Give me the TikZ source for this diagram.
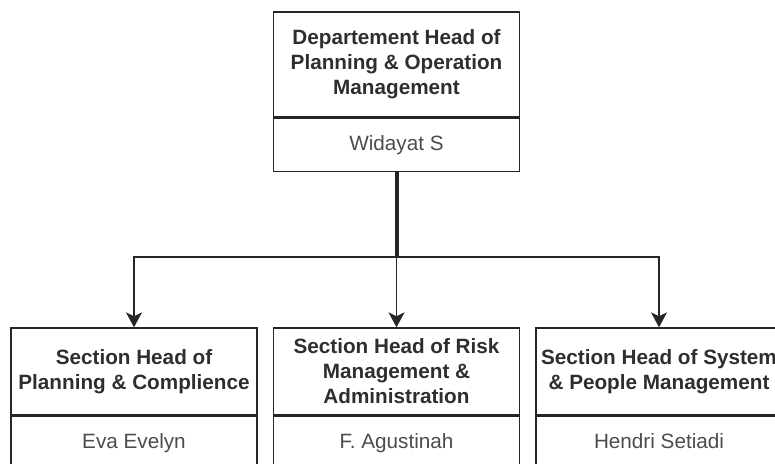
\documentclass[tikz,border=0pt]{standalone}
\usepackage{fontspec}
\setmainfont{Liberation Sans}
\usetikzlibrary{arrows.meta,positioning}
\usepackage{xcolor}
\definecolor{orgline}{gray}{0.15}
\definecolor{orgtitle}{gray}{0.18}
\definecolor{orgperson}{gray}{0.30}
\tikzset{
  orgbox/.style={draw=orgline, line width=1.3pt, rectangle, inner sep=0pt, align=center,
    minimum width=246pt, text=orgtitle,
    font=\fontsize{20.7}{25}\selectfont\bfseries},
  orgname/.style={draw=orgline, line width=1.3pt, rectangle, inner sep=0pt,
    minimum width=246pt, minimum height=53pt, text=orgperson,
    text height=15pt, text depth=4pt,
    font=\fontsize{20.7}{25}\selectfont},
  orgarrow/.style={-{Stealth[length=15pt, width=16pt, inset=4pt]}, line width=1.4pt, draw=orgline},
  orgtrunk/.style={line width=4pt, draw=orgline},
}

\begin{document}
\begin{tikzpicture}[x=1pt, y=1pt]
  \useasboundingbox (0,0) rectangle (775,463);
  \clip (0,0) rectangle (775,463);

  % department head
  \node[orgbox, minimum height=105pt] (dept) at (396.5,398.5)
    {Departement Head of\\Planning \& Operation\\Management};
  \node[orgname, below=0pt of dept] (widayat) {Widayat S};

  % section heads
  \node[orgbox, minimum height=87pt] (plan) at (134,91.5)
    {Section Head of\\Planning \& Complience};
  \node[orgname, below=0pt of plan] (eva) {Eva Evelyn};

  \node[orgbox, minimum height=87pt] (risk) at (396.5,91.5)
    {Section Head of Risk\\Management \&\\Administration};
  \node[orgname, below=0pt of risk] (agus) {F. Agustinah};

  \node[orgbox, minimum height=87pt] (sys) at (659,91.5)
    {Section Head of System\\\& People Management};
  \node[orgname, below=0pt of sys] (hendri) {Hendri Setiadi};

  \coordinate (split) at (widayat.south |- 0,206);

  \draw[orgtrunk] (widayat.south) -- (split);
  \draw[orgarrow] (split) -| (plan.north);
  \draw[orgarrow] (split) -- (risk.north);
  \draw[orgarrow] (split) -| (sys.north);
\end{tikzpicture}
\end{document}
